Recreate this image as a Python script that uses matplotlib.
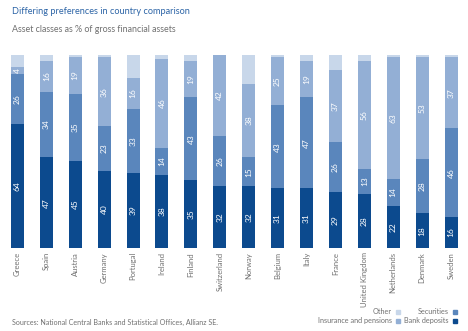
import numpy as np
import matplotlib
matplotlib.use('Agg')
import matplotlib.pyplot as plt
from matplotlib.patches import Rectangle

plt.rcParams['font.family'] = ['Lato', 'DejaVu Sans']

countries = ['Greece', 'Spain', 'Austria', 'Germany', 'Portugal', 'Ireland',
             'Finland', 'Switzerland', 'Norway', 'Belgium', 'Italy', 'France',
             'United Kingdom', 'Netherlands', 'Denmark', 'Sweden']
bank_deposits = [64, 47, 45, 40, 39, 38, 35, 32, 32, 31, 31, 29, 28, 22, 18, 16]
securities = [26, 34, 35, 23, 33, 14, 43, 26, 15, 43, 47, 26, 13, 14, 28, 46]
insurance = [4, 16, 19, 36, 16, 46, 19, 42, 38, 25, 19, 37, 56, 63, 53, 37]
other = [6, 3, 1, 1, 12, 2, 3, 0, 15, 1, 3, 8, 3, 1, 1, 1]

c_dep = '#0c4a8e'
c_sec = '#5a86bc'
c_ins = '#93afd5'
c_oth = '#c8d7ea'
grey = '#707070'

fig = plt.figure(figsize=(4.68, 3.31), dpi=100)
ax = fig.add_axes([3 / 468, 1 - 248 / 331, 462.5 / 468, 193 / 331])

x = np.arange(len(countries))
w = 0.45
series = [(bank_deposits, c_dep, True), (securities, c_sec, True),
          (insurance, c_ins, True), (other, c_oth, False)]
bottom = np.zeros(len(countries))
for vals, col, show in series:
    vals = np.array(vals, dtype=float)
    ax.bar(x, vals, w, bottom=bottom, color=col, linewidth=0)
    if show:
        for xi, b, v in zip(x, bottom, vals):
            if v > 0:
                ax.text(xi, b + v / 2, f'{int(v)}', rotation=90, ha='center',
                        va='center', color='white', fontsize=6)
    bottom += vals

ax.set_xlim(-0.5, len(countries) - 0.5)
ax.set_ylim(0, 100)
ax.set_xticks(x)
ax.set_xticklabels(countries, rotation=90, fontsize=5.5, color=grey)
ax.tick_params(axis='x', length=0, pad=3)
ax.set_yticks([])
for s in ax.spines.values():
    s.set_visible(False)

fig.text(12 / 468, 1 - 12 / 331, 'Differing preferences in country comparison',
         color='#2c64a6', fontsize=6.6, va='center')
fig.text(12 / 468, 1 - 30 / 331, 'Asset classes as % of gross financial assets',
         color=grey, fontsize=6.4, va='center')
fig.text(12 / 468, 1 - 322 / 331,
         'Sources: National Central Banks and Statistical Offices, Allianz SE.',
         color=grey, fontsize=5.1, va='center')

# legend: right-aligned labels followed by small squares
legend_items = [('Other', c_oth, 400, 312), ('Securities', c_sec, 457, 312),
                ('Insurance and pensions', c_ins, 400, 321),
                ('Bank deposits', c_dep, 457, 321)]
for label, col, xr, yc in legend_items:
    fig.text((xr - 8) / 468, 1 - yc / 331, label, color=grey, fontsize=5.2,
             ha='right', va='center')
    fig.patches.append(Rectangle(((xr - 4.5) / 468, 1 - (yc + 2.2) / 331),
                                 4.5 / 468, 4.5 / 331, transform=fig.transFigure,
                                 color=col, figure=fig))

fig.savefig('out.png', dpi=100)
